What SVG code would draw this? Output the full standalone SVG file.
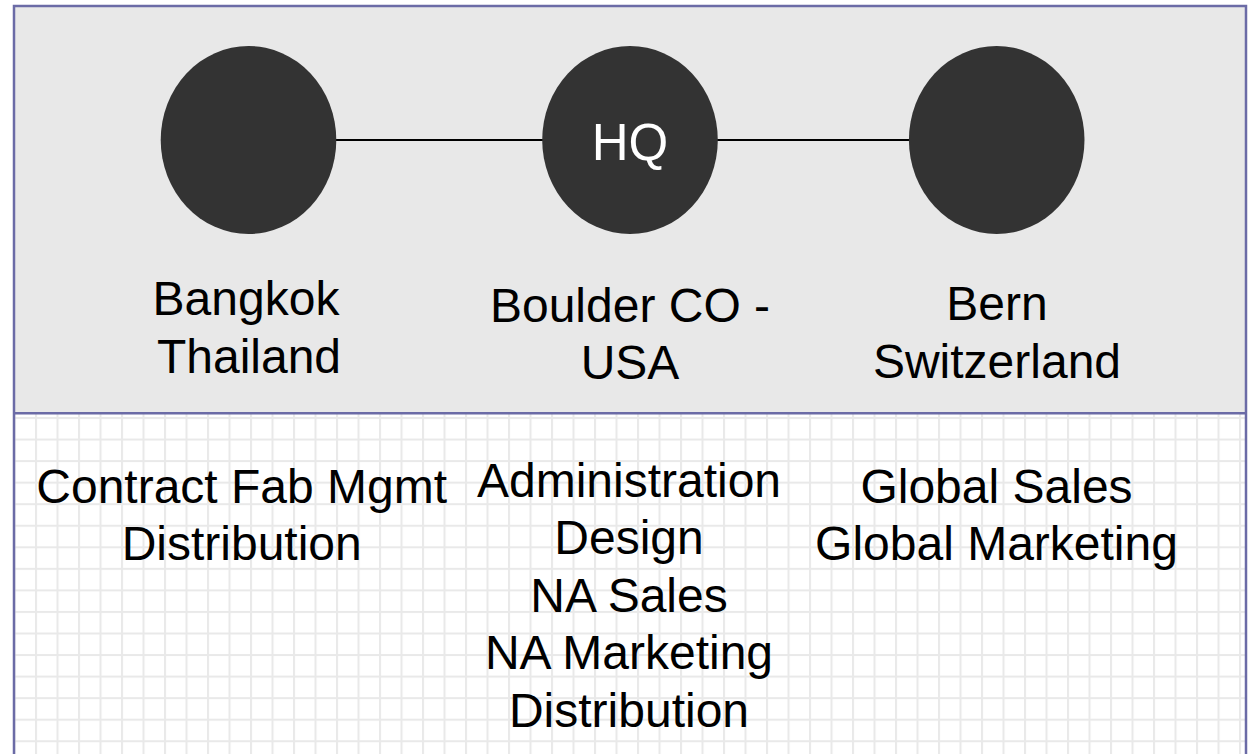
<svg xmlns="http://www.w3.org/2000/svg" width="1249" height="754" viewBox="0 0 1249 754">
<defs>
<pattern id="grid" patternUnits="userSpaceOnUse" x="35" y="417" width="21.5" height="21.55">
<rect width="21.5" height="21.55" fill="#ffffff"/>
<rect x="0" y="0" width="2" height="21.55" fill="#e9e9e9"/>
<rect x="0" y="0" width="21.5" height="2" fill="#e9e9e9"/>
</pattern>
</defs>
<style>
.node { fill: #333333; }
.lbl { font-family: "Liberation Sans", Arial, sans-serif; font-size: 48px; fill: #000000; text-anchor: middle; }
.hq { font-family: "Liberation Sans", Arial, sans-serif; font-size: 51px; fill: #ffffff; text-anchor: middle; }
.conn { stroke: #000000; stroke-width: 2; fill: none; }
.frame { fill: none; stroke: #6b6ba6; stroke-width: 2.5; }
</style>
<rect x="14" y="6" width="1232" height="407" fill="#e8e8e8"/>
<rect x="14" y="413" width="1232" height="345" fill="url(#grid)"/>
<rect class="frame" x="14" y="6" width="1232" height="760"/>
<line x1="14" y1="413.3" x2="1246" y2="413.3" stroke="#6b6ba6" stroke-width="2.5"/>
<g id="connectors">
<line class="conn" x1="336" y1="140" x2="543" y2="140"/>
<line class="conn" x1="717" y1="140" x2="910" y2="140"/>
</g>
<g id="node-bangkok">
<ellipse class="node" cx="248.5" cy="140" rx="87.8" ry="94"/>
</g>
<g id="node-hq">
<ellipse class="node" cx="630" cy="140" rx="87.8" ry="94"/>
<text class="hq" x="630" y="160">HQ</text>
</g>
<g id="node-bern">
<ellipse class="node" cx="996.7" cy="140" rx="87.8" ry="94"/>
</g>
<g id="label-bangkok">
<text class="lbl" x="246" y="315">Bangkok</text>
<text class="lbl" x="249" y="373">Thailand</text>
</g>
<g id="label-boulder">
<text class="lbl" x="630" y="321.7">Boulder CO -</text>
<text class="lbl" x="630" y="379.3">USA</text>
</g>
<g id="label-bern">
<text class="lbl" x="997" y="320">Bern</text>
<text class="lbl" x="997" y="378.3">Switzerland</text>
</g>
<g id="functions-bangkok">
<text class="lbl" x="241.7" y="502.7">Contract Fab Mgmt</text>
<text class="lbl" x="241.7" y="560">Distribution</text>
</g>
<g id="functions-boulder">
<text class="lbl" x="629" y="496.7">Administration</text>
<text class="lbl" x="629" y="554">Design</text>
<text class="lbl" x="629" y="611.7">NA Sales</text>
<text class="lbl" x="629" y="669.3">NA Marketing</text>
<text class="lbl" x="629" y="726.7">Distribution</text>
</g>
<g id="functions-bern">
<text class="lbl" x="996.5" y="502.7">Global Sales</text>
<text class="lbl" x="996.5" y="560">Global Marketing</text>
</g>
</svg>
